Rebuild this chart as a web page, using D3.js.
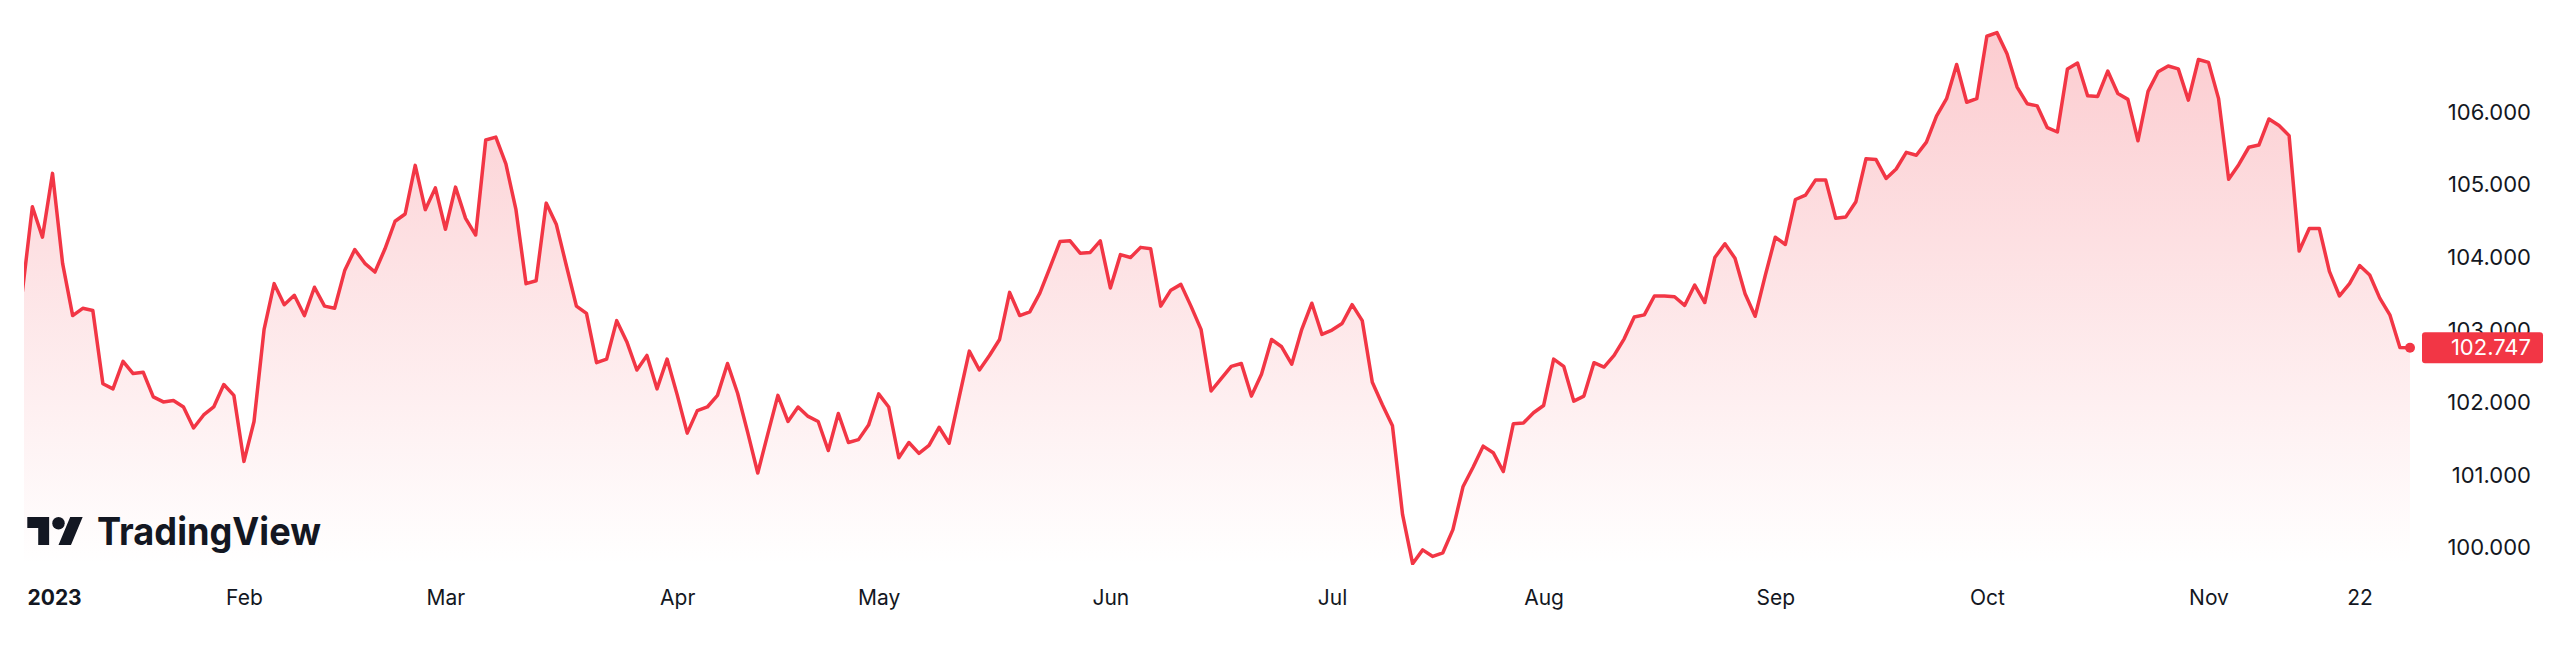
<!DOCTYPE html>
<html>
<head>
<meta charset="utf-8">
<script src="https://cdn.jsdelivr.net/npm/d3@7"></script>
<style>
  html, body { margin: 0; padding: 0; background: #ffffff; }
  svg { display: block; }
</style>
</head>
<body>
<div id="chart"></div>
<script>
// Daily closes (weekdays, 2 Jan 2023 – 29 Nov 2023)
const values = [
  103.51,104.69,104.27,105.15,103.91,103.19,103.29,103.26,102.25,102.18,
  102.56,102.39,102.41,102.07,102.00,102.02,101.93,101.64,101.82,101.93,
  102.24,102.09,101.18,101.73,103.00,103.63,103.34,103.47,103.19,103.58,
  103.32,103.29,103.81,104.10,103.91,103.79,104.11,104.49,104.59,105.26,
  104.65,104.95,104.38,104.96,104.53,104.30,105.61,105.65,105.28,104.65,
  103.63,103.67,104.74,104.45,103.88,103.32,103.22,102.54,102.59,103.12,
  102.83,102.44,102.64,102.18,102.59,102.10,101.57,101.88,101.93,102.09,
  102.53,102.12,101.58,101.02,101.56,102.09,101.73,101.93,101.80,101.73,
  101.33,101.84,101.44,101.48,101.68,102.11,101.93,101.23,101.44,101.29,
  101.40,101.65,101.43,102.07,102.70,102.44,102.64,102.86,103.51,103.19,
  103.24,103.50,103.85,104.21,104.22,104.05,104.06,104.22,103.57,104.03,
  103.99,104.13,104.11,103.32,103.54,103.62,103.32,103.00,102.15,102.32,
  102.49,102.53,102.08,102.38,102.86,102.76,102.52,103.00,103.36,102.93,
  102.99,103.08,103.34,103.12,102.27,101.96,101.67,100.45,99.77,99.96,
  99.87,99.92,100.24,100.83,101.10,101.39,101.30,101.04,101.70,101.71,
  101.85,101.95,102.59,102.49,102.01,102.08,102.54,102.48,102.64,102.87,
  103.17,103.20,103.46,103.46,103.45,103.33,103.61,103.37,103.99,104.18,
  103.98,103.49,103.18,103.74,104.27,104.17,104.79,104.85,105.06,105.06,
  104.53,104.55,104.76,105.35,105.34,105.08,105.21,105.44,105.40,105.58,
  105.94,106.18,106.65,106.13,106.18,107.04,107.09,106.80,106.34,106.11,
  106.08,105.78,105.72,106.59,106.67,106.22,106.21,106.56,106.25,106.17,
  105.60,106.28,106.55,106.63,106.59,106.16,106.72,106.68,106.18,105.07,
  105.27,105.51,105.54,105.90,105.81,105.67,104.08,104.39,104.39,103.80,
  103.46,103.63,103.88,103.75,103.43,103.20,102.75,102.747
];
const tickLabels = ['2023','Feb','Mar','Apr','May','Jun','Jul','Aug','Sep','Oct','Nov','22'];
const tickIndex  = [0, 22, 42, 65, 85, 108, 130, 151, 174, 195, 217, 232];
const priceTicks = [100, 101, 102, 103, 104, 105, 106];
const lastValue = 102.747;

const W = 2560, H = 645;
const paneBottom = 565;
const RED = '#F23645';
const INK = '#131722';
const FONT = 'Inter, "Noto Sans", "DejaVu Sans", sans-serif';

const svg = d3.select('#chart').append('svg')
  .attr('width', W).attr('height', H)
  .attr('viewBox', `0 0 ${W} ${H}`);

const x = d3.scaleLinear().domain([0, values.length - 1]).range([22.3, 2410]);
const y = d3.scaleLinear().domain([100, 106]).range([547, 111.7]);

const defs = svg.append('defs');
const grad = defs.append('linearGradient')
  .attr('id', 'areaGrad')
  .attr('gradientUnits', 'userSpaceOnUse')
  .attr('x1', 0).attr('y1', 0).attr('x2', 0).attr('y2', paneBottom);
grad.append('stop').attr('offset', '0%').attr('stop-color', RED).attr('stop-opacity', 0.27);
grad.append('stop').attr('offset', '100%').attr('stop-color', RED).attr('stop-opacity', 0.0);

defs.append('clipPath').attr('id', 'pane')
  .append('rect').attr('x', 24).attr('y', 0).attr('width', 2400).attr('height', paneBottom);

const plot = svg.append('g').attr('clip-path', 'url(#pane)');

const area = d3.area()
  .x((d, i) => x(i))
  .y0(paneBottom)
  .y1(d => y(d));
const line = d3.line()
  .x((d, i) => x(i))
  .y(d => y(d));

plot.append('path').datum(values)
  .attr('d', area)
  .attr('fill', 'url(#areaGrad)');

plot.append('path').datum(values)
  .attr('d', line)
  .attr('fill', 'none')
  .attr('stroke', RED)
  .attr('stroke-width', 3.5)
  .attr('stroke-linejoin', 'round')
  .attr('stroke-linecap', 'round');

// last point marker
svg.append('circle')
  .attr('cx', x(values.length - 1))
  .attr('cy', y(lastValue))
  .attr('r', 5)
  .attr('fill', RED);

// price axis
const yAxis = d3.axisRight(y)
  .tickValues(priceTicks)
  .tickFormat(d3.format('.3f'))
  .tickSize(0);
const yg = svg.append('g').attr('transform', 'translate(2531,0)').call(yAxis);
yg.select('.domain').remove();
yg.selectAll('text')
  .attr('x', 0)
  .attr('dy', '0.35em')
  .attr('text-anchor', 'end')
  .attr('fill', INK)
  .style('font-family', FONT)
  .style('font-size', '22px');

// last value label
const ly = y(lastValue);
svg.append('rect')
  .attr('x', 2422).attr('y', ly - 15.5)
  .attr('width', 121).attr('height', 31)
  .attr('rx', 3).attr('fill', RED);
svg.append('text')
  .attr('x', 2531).attr('y', ly)
  .attr('dy', '0.35em')
  .attr('text-anchor', 'end')
  .attr('fill', '#ffffff')
  .style('font-family', FONT)
  .style('font-size', '22px')
  .text(d3.format('.3f')(lastValue));

// time axis
const xAxis = d3.axisBottom(x)
  .tickValues(tickIndex)
  .tickFormat((d, i) => tickLabels[i])
  .tickSize(0);
const xg = svg.append('g').attr('transform', 'translate(0,598)').call(xAxis);
xg.select('.domain').remove();
xg.selectAll('text')
  .attr('y', 0)
  .attr('dy', '0.35em')
  .attr('fill', INK)
  .style('font-family', FONT)
  .style('font-size', '21px')
  .each(function(d, i) {
    if (i === 0) {
      d3.select(this)
        .attr('text-anchor', 'start')
        .attr('x', 27 - x(0))
        .style('font-weight', 700);
    }
  });

// TradingView logo
const logo = svg.append('g').attr('transform', 'translate(27.3,510.8) scale(1.56)');
logo.append('path')
  .attr('d', 'M14 22H7V11H0V4h14v18zM28 22h-8l7.5-18h8L28 22z')
  .attr('fill', INK);
logo.append('circle').attr('cx', 20).attr('cy', 8).attr('r', 4).attr('fill', INK);
svg.append('text')
  .attr('x', 97).attr('y', 545)
  .attr('fill', INK)
  .attr('textLength', 224)
  .attr('lengthAdjust', 'spacingAndGlyphs')
  .style('font-family', FONT)
  .style('font-size', '38px')
  .style('font-weight', 700)
  .text('TradingView');
</script>
</body>
</html>
